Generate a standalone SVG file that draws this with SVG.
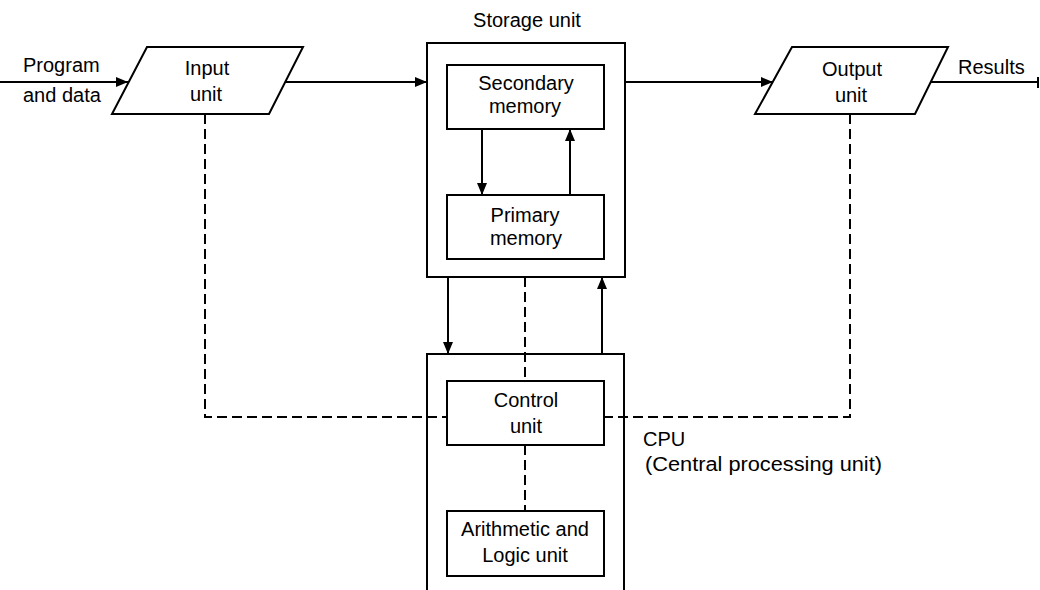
<svg xmlns="http://www.w3.org/2000/svg" width="1040" height="590" viewBox="0 0 1040 590">
  <style>
    .box { fill: none; stroke: #000; stroke-width: 2; }
    .ln { fill: none; stroke: #000; stroke-width: 2; }
    .arr { fill: none; stroke: #000; stroke-width: 2; marker-end: url(#ah); }
    .dash { fill: none; stroke: #000; stroke-width: 2; stroke-dasharray: 10 5; }
    text { font-family: "Liberation Sans", Arial, sans-serif; font-size: 20px; fill: #000; }
    .c { text-anchor: middle; }
  </style>
  <defs>
    <marker id="ah" markerUnits="userSpaceOnUse" markerWidth="12" markerHeight="10" refX="12" refY="5" orient="auto">
      <path d="M0,0 L12,5 L0,10 z" fill="#000"/>
    </marker>
  </defs>
  <rect width="1040" height="590" fill="#fff"/>

  <g id="connectors">
    <line class="arr" x1="0" y1="82" x2="128" y2="82"/>
    <line class="arr" x1="285" y1="82" x2="427" y2="82"/>
    <line class="arr" x1="625" y1="82" x2="773" y2="82"/>
    <line class="ln" x1="931" y1="82" x2="1038" y2="82"/>
    <line class="ln" x1="1038" y1="77" x2="1038" y2="88"/>
    <line class="arr" x1="482" y1="129" x2="482" y2="195"/>
    <line class="arr" x1="570" y1="195" x2="570" y2="129"/>
    <line class="arr" x1="448" y1="277" x2="448" y2="354"/>
    <line class="arr" x1="602" y1="354" x2="602" y2="277"/>
    <path class="dash" d="M205,114 V417 H447"/>
    <path class="dash" d="M850,114 V417 H604"/>
    <line class="dash" x1="525" y1="277" x2="525" y2="381"/>
    <line class="dash" x1="525" y1="445" x2="525" y2="511"/>
  </g>

  <g id="program-label">
    <text x="23" y="72">Program</text>
    <text x="23" y="102">and data</text>
  </g>

  <g id="input-unit">
    <polygon class="box" points="147,47 303,47 269,114 112,114"/>
    <text class="c" x="207" y="75">Input</text>
    <text class="c" x="206" y="101">unit</text>
  </g>

  <g id="storage-unit">
    <text class="c" x="527" y="27">Storage unit</text>
    <rect class="box" x="427" y="43" width="198" height="234"/>
  </g>

  <g id="secondary-memory">
    <rect class="box" x="447" y="65" width="157" height="64"/>
    <text class="c" x="526" y="90">Secondary</text>
    <text class="c" x="525" y="113">memory</text>
  </g>

  <g id="primary-memory">
    <rect class="box" x="447" y="195" width="157" height="64"/>
    <text class="c" x="525" y="222">Primary</text>
    <text class="c" x="526" y="245">memory</text>
  </g>

  <g id="output-unit">
    <polygon class="box" points="792,47 948,47 915,114 755,114"/>
    <text class="c" x="852" y="76">Output</text>
    <text class="c" x="851" y="102">unit</text>
  </g>

  <g id="results-label">
    <text x="958" y="74">Results</text>
  </g>

  <g id="cpu">
    <path class="box" d="M427,592 V354 H624 V592"/>
    <text x="643" y="446">CPU</text>
    <text x="645" y="471" textLength="237" lengthAdjust="spacingAndGlyphs">(Central processing unit)</text>
  </g>

  <g id="control-unit">
    <rect class="box" x="447" y="381" width="157" height="64"/>
    <text class="c" x="526" y="407">Control</text>
    <text class="c" x="526" y="433">unit</text>
  </g>

  <g id="alu">
    <rect class="box" x="447" y="511" width="157" height="65"/>
    <text class="c" x="525" y="536">Arithmetic and</text>
    <text class="c" x="525" y="562">Logic unit</text>
  </g>
</svg>
